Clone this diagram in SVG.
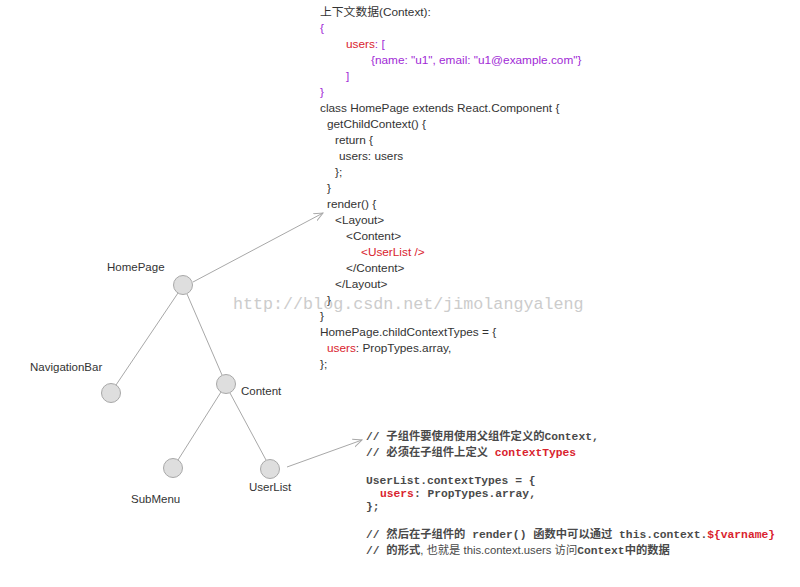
<svg xmlns="http://www.w3.org/2000/svg" width="800" height="587" viewBox="0 0 800 587">
<defs>
<style>
.code{font-family:"Liberation Sans","Noto Sans CJK SC",sans-serif;font-size:11.8px;fill:#333}
.mono{font-family:"Liberation Mono","Noto Sans CJK SC",monospace;font-size:11.3px;fill:#4a4a4a;font-weight:bold}
.sans{font-family:"Liberation Sans","Noto Sans CJK SC",sans-serif;font-weight:normal}
.pur{fill:#a12ad6}
.red{fill:#d9232e}
.lbl{font-family:"Liberation Sans",sans-serif;font-size:11.5px;fill:#333}
.node circle{fill:#dedede;stroke:#a8a8a8;stroke-width:1}
.edge{stroke:#a8a8a8;stroke-width:1;fill:none}
.wm{font-family:"Liberation Mono",monospace;font-size:16.7px;fill:#cccccc}
</style>
<marker id="arr" viewBox="0 0 10 10" refX="9" refY="5" markerWidth="10" markerHeight="10" markerUnits="userSpaceOnUse" orient="auto">
<path d="M0,1 L9,5 L0,9" fill="none" stroke="#a8a8a8" stroke-width="1"/>
</marker>
</defs>
<rect width="800" height="587" fill="#fff"/>

<g id="connectors">
<line class="edge" x1="178" y1="293" x2="116" y2="385"/>
<line class="edge" x1="187" y1="294" x2="222" y2="375"/>
<line class="edge" x1="221" y1="392" x2="178" y2="460"/>
<line class="edge" x1="230" y1="393" x2="266" y2="460"/>
<line class="edge" x1="193" y1="282" x2="323" y2="213" marker-end="url(#arr)"/>
<line class="edge" x1="287" y1="467" x2="362" y2="440" marker-end="url(#arr)"/>
</g>

<g id="node-homepage" class="node"><circle cx="183" cy="285" r="9.5"/><text class="lbl" x="107" y="271">HomePage</text></g>
<g id="node-navigationbar" class="node"><circle cx="111" cy="393" r="9.5"/><text class="lbl" x="30" y="371">NavigationBar</text></g>
<g id="node-content" class="node"><circle cx="226" cy="384" r="9.5"/><text class="lbl" x="241" y="395">Content</text></g>
<g id="node-submenu" class="node"><circle cx="173" cy="468" r="9.5"/><text class="lbl" x="131" y="503">SubMenu</text></g>
<g id="node-userlist" class="node"><circle cx="270" cy="469" r="9.5"/><text class="lbl" x="249" y="491">UserList</text></g>

<text class="wm" x="233" y="309">http://blog.csdn.net/jimolangyaleng</text>

<g id="code-homepage">
<text class="code" x="320" y="16">上下文数据(Context):</text>
<text class="code pur" x="320" y="32">{</text>
<text class="code" x="346" y="48"><tspan class="red">users</tspan><tspan class="pur">: [</tspan></text>
<text class="code pur" x="371" y="64">{name: "u1", email: "u1@example.com"}</text>
<text class="code pur" x="346" y="80">]</text>
<text class="code pur" x="320" y="96">}</text>
<text class="code" x="320" y="112">class HomePage extends React.Component {</text>
<text class="code" x="327" y="128">getChildContext() {</text>
<text class="code" x="335" y="144">return {</text>
<text class="code" x="339" y="160">users: users</text>
<text class="code" x="335" y="176">};</text>
<text class="code" x="327" y="192">}</text>
<text class="code" x="327" y="208">render() {</text>
<text class="code" x="335" y="224">&lt;Layout&gt;</text>
<text class="code" x="346" y="240">&lt;Content&gt;</text>
<text class="code red" x="361" y="256">&lt;UserList /&gt;</text>
<text class="code" x="346" y="272">&lt;/Content&gt;</text>
<text class="code" x="335" y="288">&lt;/Layout&gt;</text>
<text class="code" x="327" y="304">}</text>
<text class="code" x="320" y="320">}</text>
<text class="code" x="320" y="336">HomePage.childContextTypes = {</text>
<text class="code" x="327" y="352"><tspan class="red">users</tspan>: PropTypes.array,</text>
<text class="code" x="320" y="368">};</text>
</g>

<g id="code-userlist">
<text class="mono" x="366" y="440">// 子组件要使用使用父组件定义的Context,</text>
<text class="mono" x="366" y="456">// 必须在子组件上定义 <tspan class="red">contextTypes</tspan></text>
<text class="mono" x="366" y="484">UserList.contextTypes = {</text>
<text class="mono" x="380" y="497"><tspan class="red">users</tspan>: PropTypes.array,</text>
<text class="mono" x="366" y="510">};</text>
<text class="mono" x="366" y="538">// 然后在子组件的 render() 函数中可以通过 this.context.<tspan class="red">${varname}</tspan></text>
<text class="mono" x="366" y="554">// 的形式<tspan class="sans">, 也就是 this.context.users 访问</tspan>Context中的数据</text>
</g>
</svg>
